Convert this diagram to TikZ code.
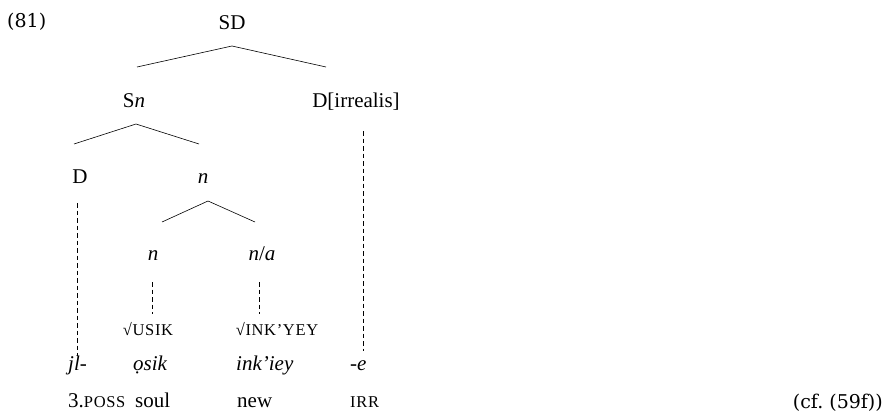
\documentclass[tikz,border=0pt]{standalone}
\usepackage{fontspec}
\setmainfont{Liberation Serif}
\newfontfamily\exfont{DejaVu Serif}
\newcommand\smc[1]{{\fontsize{16.5}{19}\selectfont\addfontfeature{LetterSpace=4}#1}}
\tikzset{
  lbl/.style={inner sep=0pt, anchor=base, font=\fontsize{21}{25}\selectfont},
  lblw/.style={lbl, anchor=base west},
  exlbl/.style={inner sep=0pt, font=\exfont\fontsize{19}{23}\selectfont},
  branch/.style={line width=0.6pt},
  assoc/.style={line width=0.6pt, dash pattern=on 4.5pt off 3pt},
}
\begin{document}
\begin{tikzpicture}[x=1pt,y=-1pt]
\useasboundingbox (0,0) rectangle (886,412);

% example number and cross-reference
\node[exlbl, anchor=base west] (num) at (7,28) {(81)};
\node[exlbl, anchor=base east] (cf) at (883,408) {(cf.\ (59f))};

% tree labels
\node[lbl] (SD) at (232,30) {SD};
\node[lbl] (Sn) at (134,107) {S\textit{n}};
\node[lbl] (Dirr) at (356,107) {D[irrealis]};
\node[lbl] (D) at (80,183) {D};
\node[lbl] (nP) at (203,183) {\textit{n}};
\node[lbl] (n1) at (153,260) {\textit{n}};
\node[lbl] (na) at (262,260) {\textit{n}/\textit{a}};

% roots
\node[lbl] (r1) at (148,335) {\smc{√USIK}};
\node[lbl] (r2) at (277,335) {\smc{√INK’YEY}};

% surface forms
\node[lblw] (w1) at (68,370) {\textit{jl-}};
\node[lblw] (w2) at (133,370) {\textit{ọsik}};
\node[lblw] (w3) at (236,370) {\textit{ink’iey}};
\node[lblw] (w4) at (350,370) {\textit{-e}};

% glosses
\node[lblw] (g1) at (68,407) {3.\smc{POSS}};
\node[lblw] (g2) at (135,407) {soul};
\node[lblw] (g3) at (237,407) {new};
\node[lblw] (g4) at (350,407) {\smc{IRR}};

% branch points
\coordinate (SD-b) at (232,46);
\coordinate (Sn-t) at (137,67);
\coordinate (Dirr-t) at (326,67);
\coordinate (Sn-b) at (136,124);
\coordinate (D-t) at (74,144);
\coordinate (nP-t) at (199,144);
\coordinate (nP-b) at (208,201);
\coordinate (n1-t) at (162,222);
\coordinate (na-t) at (255,222);

\draw[branch] (Sn-t) -- (SD-b) -- (Dirr-t);
\draw[branch] (D-t) -- (Sn-b) -- (nP-t);
\draw[branch] (n1-t) -- (nP-b) -- (na-t);

% association lines
\coordinate (D-a) at (77,203);
\coordinate (w1-a) at (77,356);
\coordinate (Dirr-a) at (363,131);
\coordinate (w4-a) at (363,351);
\coordinate (n1-a) at (152,282);
\coordinate (r1-a) at (152,314);
\coordinate (na-a) at (259,282);
\coordinate (r2-a) at (259,314);

\draw[assoc] (D-a) -- (w1-a);
\draw[assoc] (Dirr-a) -- (w4-a);
\draw[assoc] (n1-a) -- (r1-a);
\draw[assoc] (na-a) -- (r2-a);
\end{tikzpicture}
\end{document}
